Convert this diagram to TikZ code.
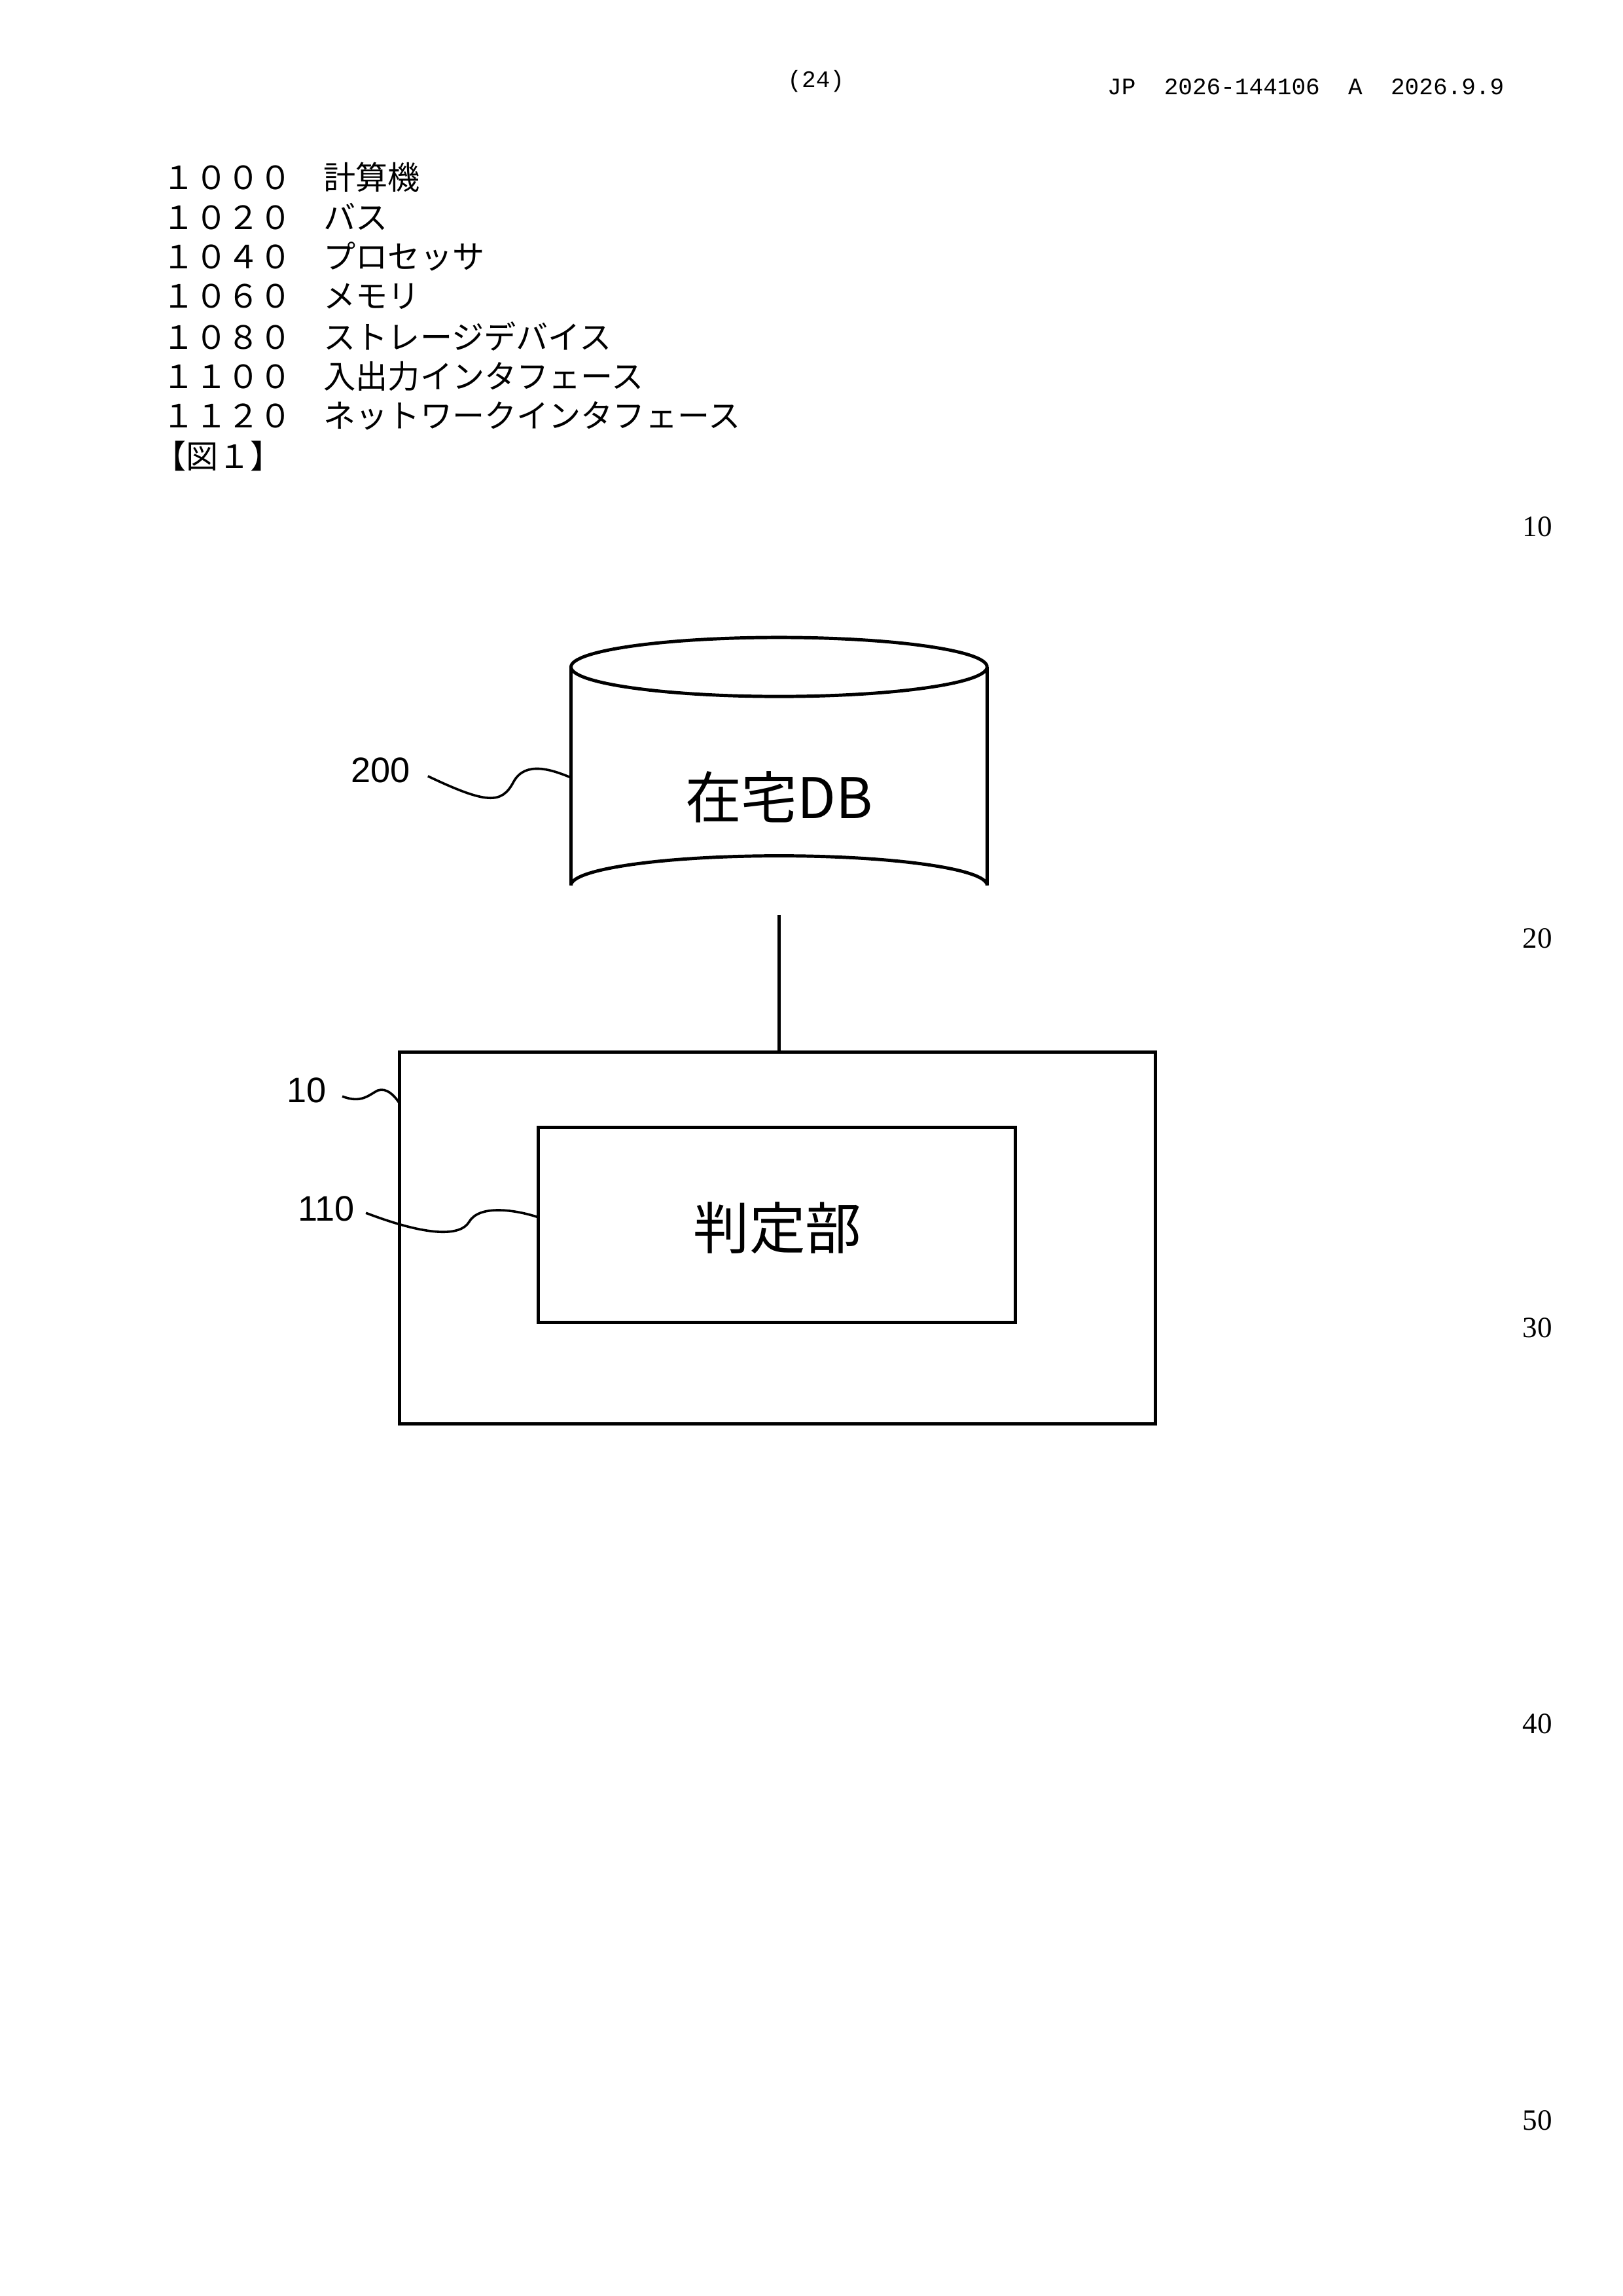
\documentclass[tikz,border=0pt]{standalone}
\usepackage{fontspec}
\setmainfont{Liberation Serif}
\newfontfamily\cjk{Noto Sans CJK JP}
\newfontfamily\arl{Liberation Sans}
\newfontfamily\mono{Liberation Mono}
\begin{document}
\begin{tikzpicture}[x=0.5pt,y=-0.5pt,
  lst/.style={anchor=west,inner sep=0,font=\cjk\fontsize{10.9}{12}\selectfont},
  lno/.style={inner sep=0,font=\fontsize{10}{12}\selectfont},
  lbl/.style={inner sep=0,font=\arl\fontsize{12}{14}\selectfont},
  box/.style={draw,line width=1.1pt},
  sq/.style={line width=0.8pt}]
\path[use as bounding box,fill=white] (0,0) rectangle (1100,1556);
\node[inner sep=0,font=\mono\fontsize{8}{10}\selectfont] (pg) at (553,55) {(24)};
\node[inner sep=0,font=\mono\fontsize{8}{10}\selectfont] (hd) at (885,59) {JP\ \ 2026-144106\ \ A\ \ 2026.9.9};
\foreach \n/\t/\y in {a/１０００\quad 計算機/120, b/１０２０\quad バス/147, c/１０４０\quad プロセッサ/174, d/１０６０\quad メモリ/201, e/１０８０\quad ストレージデバイス/228, f/１１００\quad 入出力インタフェース/255, g/１１２０\quad ネットワークインタフェース/282}
  \node[lst] (l\n) at (110,\y) {\t};
\node[lst] (fig) at (104,309) {【図１】};
\foreach \v/\y in {10/357,20/636,30/900,40/1168,50/1437}
  \node[lno] (n\v) at (1042,\y) {\v};
% cylinder
\draw[box,fill=white] (387,452) -- (387,600) arc[start angle=180,end angle=360,x radius=141,y radius=20] -- (669,452) arc[start angle=0,end angle=360,x radius=141,y radius=20];
\node[inner sep=0] (db) at (528,540) {\cjk\fontsize{19}{22}\selectfont 在宅DB};
\coordinate (dbb) at (528,620);
\node[box,minimum width=256pt,minimum height=126pt,inner sep=0] (outer) at (527,839) {};
\node[box,minimum width=161.5pt,minimum height=66pt,inner sep=0] (inner) at (526.5,830) {};
\node[inner sep=0] (jt) at (527,832) {\cjk\fontsize{19}{22}\selectfont 判定部};
\draw[box] (dbb) -- (outer.north -| dbb);
\node[lbl] (l200) at (258,522) {200};
\node[lbl] (l10) at (208,739) {10};
\node[lbl] (l110) at (221,819) {110};
\draw[sq] (290,526) .. controls (330,545) and (340,545) .. (348,530) .. controls (356,515) and (375,522) .. (387,527);
\draw[sq] (232,743) .. controls (245,748) and (250,742) .. (256,739) .. controls (262,737) and (267,742) .. (271,748);
\draw[sq] (248,822) .. controls (290,838) and (312,838) .. (318,828) .. controls (325,816) and (350,820) .. (365,825);
\end{tikzpicture}
\end{document}
